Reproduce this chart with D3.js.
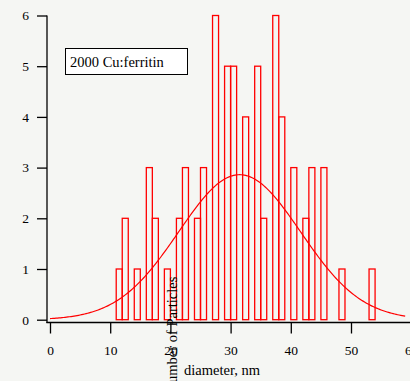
<!DOCTYPE html>
<html>
<head>
<meta charset="utf-8">
<script src="https://cdn.jsdelivr.net/npm/d3@7"></script>
<style>
  html, body { margin: 0; padding: 0; background: #f5f6f3; }
  svg { display: block; }
  text { font-family: "Liberation Serif", "Times New Roman", serif; fill: #000; }
</style>
</head>
<body>
<svg id="chart" width="410" height="381"></svg>
<script>
// Histogram of particle diameters: left edge of each 1 nm bin and its count
const binStarts = [11, 12, 14, 16, 17, 19, 21, 22, 24, 25, 27, 29, 30, 32, 34, 35, 37, 38, 40, 42, 43, 45, 48, 53];
const binCounts = [1, 2, 1, 3, 2, 1, 2, 3, 2, 3, 6, 5, 5, 4, 5, 2, 6, 4, 3, 2, 3, 3, 1, 1];
const binWidth = 1;

// Gaussian fit: amplitude, centre and width (y = A * exp(-((x - x0) / w)^2))
const fitAmplitude = 2.86;
const fitCenter = 31.5;
const fitWidth = 14.3;
const fitRange = [0, 59];

const xTicks = [0, 10, 20, 30, 40, 50, 60];
const yTicks = [0, 1, 2, 3, 4, 5, 6];

const sampleName = "2000 Cu:ferritin";
const xTitle = "diameter, nm";
const yTitle = "Number of Particles";

const serif = '"Liberation Serif", "Times New Roman", serif';
const svg = d3.select("#chart");

const x = d3.scaleLinear().domain([0, 60]).range([50, 411.2]);
const y = d3.scaleLinear().domain([0, 6]).range([319.7, 15.5]);

const axisX = 322.5;   // x axis sits a little below zero
const axisY = 47;      // y axis sits a little left of zero

// Bars
svg.append("g")
  .selectAll("rect")
  .data(binStarts.map((b, i) => ({ b, c: binCounts[i] })))
  .join("rect")
  .attr("x", d => x(d.b))
  .attr("y", d => y(d.c))
  .attr("width", d => x(d.b + binWidth) - x(d.b))
  .attr("height", d => y(0) - y(d.c))
  .attr("fill", "none")
  .attr("stroke", "#ff0000")
  .attr("stroke-width", 1.3);

// Fit curve
const fitPts = d3.range(fitRange[0], fitRange[1] + 0.001, 0.25)
  .map(v => [v, fitAmplitude * Math.exp(-Math.pow((v - fitCenter) / fitWidth, 2))]);
svg.append("path")
  .datum(fitPts)
  .attr("d", d3.line().x(d => x(d[0])).y(d => y(d[1])))
  .attr("fill", "none")
  .attr("stroke", "#ff0000")
  .attr("stroke-width", 1.2);

// Axes
const gx = svg.append("g")
  .attr("transform", `translate(0,${axisX})`)
  .call(d3.axisBottom(x).tickValues(xTicks).tickFormat(d3.format("d"))
    .tickSize(11).tickSizeOuter(0).tickPadding(12));
gx.select(".domain").remove();
gx.selectAll(".tick line").attr("stroke", "#000").attr("stroke-width", 1.3);
gx.selectAll(".tick text").style("font-size", "13.5px").style("font-family", serif);

const gy = svg.append("g")
  .attr("transform", `translate(${axisY},0)`)
  .call(d3.axisLeft(y).tickValues(yTicks).tickFormat(d3.format("d"))
    .tickSize(10).tickSizeOuter(0).tickPadding(8));
gy.select(".domain").remove();
gy.selectAll(".tick line").attr("stroke", "#000").attr("stroke-width", 1.3);
gy.selectAll(".tick text").style("font-size", "13.5px").style("font-family", serif);

svg.append("line")
  .attr("x1", axisY).attr("x2", axisY)
  .attr("y1", y(6)).attr("y2", axisX + 0.6)
  .attr("stroke", "#000").attr("stroke-width", 1.3);
svg.append("line")
  .attr("x1", axisY - 0.6).attr("x2", 412)
  .attr("y1", axisX).attr("y2", axisX)
  .attr("stroke", "#000").attr("stroke-width", 1.3);

// Axis titles
svg.append("text")
  .attr("x", 222).attr("y", 374.5)
  .attr("text-anchor", "middle")
  .style("font-size", "14.5px")
  .text(xTitle);

svg.append("text")
  .attr("transform", "translate(177,335) rotate(-90)")
  .attr("text-anchor", "middle")
  .style("font-size", "14.5px")
  .text(yTitle);

// Sample label box
svg.append("rect")
  .attr("x", 65.5).attr("y", 48.5)
  .attr("width", 122).attr("height", 26)
  .attr("fill", "#ffffff")
  .attr("stroke", "#000").attr("stroke-width", 1);
svg.append("text")
  .attr("x", 70).attr("y", 66.5)
  .style("font-size", "14.5px")
  .text(sampleName);
</script>
</body>
</html>
